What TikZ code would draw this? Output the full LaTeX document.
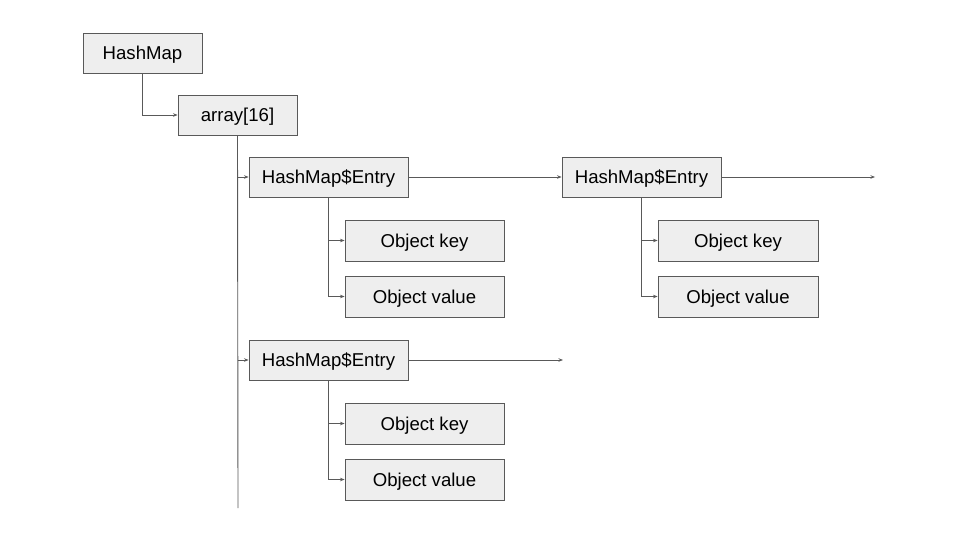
\documentclass[tikz,border=0pt]{standalone}
\usepackage{fontspec}
\setmainfont{Liberation Sans}
\usetikzlibrary{arrows.meta}
\definecolor{linec}{HTML}{595959}
\definecolor{boxfill}{HTML}{EEEEEE}
\begin{document}
\begin{tikzpicture}[x=1pt,y=-1pt,
  box/.style={draw=linec, fill=boxfill, line width=0.9pt, minimum height=40pt, inner sep=0pt, text height=16pt, text depth=3pt, font=\fontsize{18.6}{22}\selectfont},
  conn/.style={draw=linec, line width=0.9pt, -{Stealth[length=4.5pt,width=3.5pt]}},
  plain/.style={draw=linec, line width=0.9pt}]
\useasboundingbox[fill=white] (0,0) rectangle (960,540);
\node[box, minimum width=119pt] (hm) at (142.5,53.5) {HashMap};
\node[box, minimum width=119pt] (arr) at (237.5,115) {array[16]};
\node[box, minimum width=159pt] (e1) at (328.5,177) {HashMap\$Entry};
\node[box, minimum width=159pt, minimum height=41pt] (k1) at (424.5,240.5) {Object key};
\node[box, minimum width=159pt, minimum height=41pt] (v1) at (424.5,296.5) {Object value};
\node[box, minimum width=159pt] (e2) at (641.5,177) {HashMap\$Entry};
\node[box, minimum width=160pt, minimum height=41pt] (k2) at (738,240.5) {Object key};
\node[box, minimum width=160pt, minimum height=41pt] (v2) at (738,296.5) {Object value};
\node[box, minimum width=159pt] (e3) at (328.5,360) {HashMap\$Entry};
\node[box, minimum width=159pt, minimum height=41pt] (k3) at (424.5,423.5) {Object key};
\node[box, minimum width=159pt, minimum height=41pt] (v3) at (424.5,479.5) {Object value};
\coordinate (arrend) at (238,508);
\coordinate (e2end) at (875,177);
\coordinate (e3end) at (563,360);
% HashMap -> array
\draw[conn] (hm.south) |- (arr.west);
% array spine
\draw[plain] (arr.south) -- (arrend);
\draw[conn] (arr.south |- e1.west) -- (e1.west);
\draw[conn] (arr.south |- e3.west) -- (e3.west);
% chains
\draw[conn] (e1.east) -- (e2.west);
\draw[conn] (e2.east) -- (e2end);
\draw[conn] (e3.east) -- (e3end);
% children
\draw[conn] (e1.south) |- (k1.west);
\draw[conn] (e1.south) |- (v1.west);
\draw[conn] (e2.south) |- (k2.west);
\draw[conn] (e2.south) |- (v2.west);
\draw[conn] (e3.south) |- (k3.west);
\draw[conn] (e3.south) |- (v3.west);
\end{tikzpicture}
\end{document}
